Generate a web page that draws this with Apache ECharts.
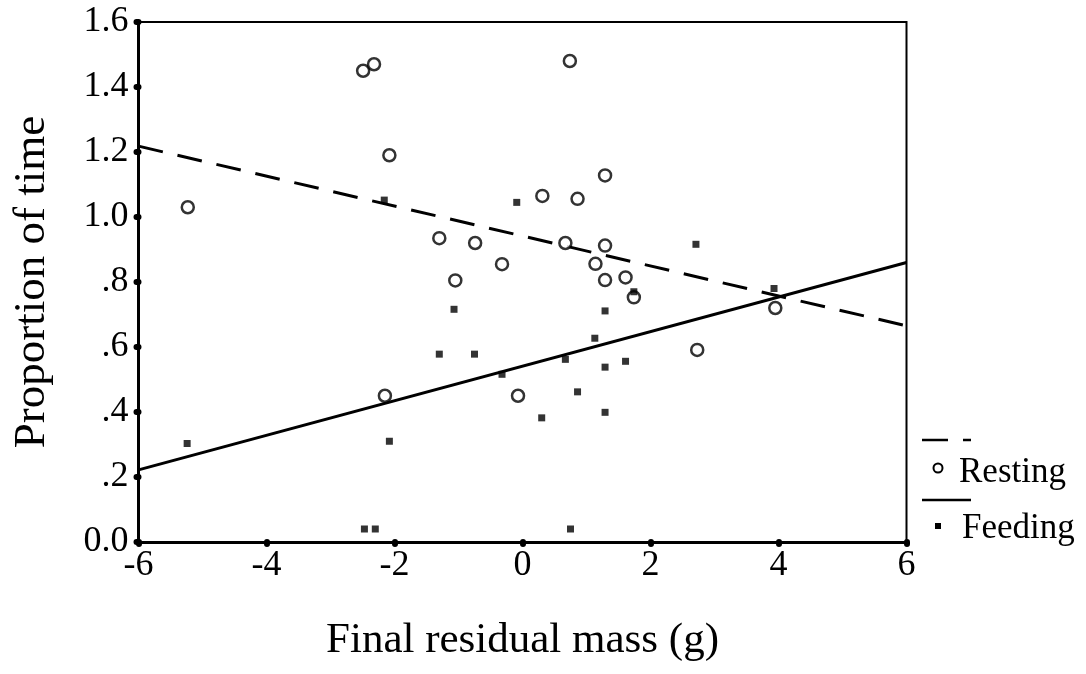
<!DOCTYPE html>
<html>
<head>
<meta charset="utf-8">
<script src="https://cdn.jsdelivr.net/npm/echarts@6/dist/echarts.min.js"></script>
<style>
  html, body { margin: 0; padding: 0; background: #fff; }
  #main { width: 1086px; height: 674px; }
</style>
</head>
<body>
<div id="main"></div>
<script>
// resting (open circles)
var restingX = [-5.23, -2.49, -2.32, -2.08, -2.15, -1.30, -1.05, -0.74, -0.32, -0.07, 0.31, 0.67, 0.74, 0.86, 1.14, 1.29, 1.29, 1.29, 1.61, 1.74, 2.73, 3.95];
var restingY = [1.03, 1.45, 1.47, 1.19, 0.45, 0.935, 0.805, 0.92, 0.855, 0.45, 1.065, 0.92, 1.48, 1.056, 0.856, 1.128, 0.912, 0.806, 0.814, 0.753, 0.591, 0.72];
// feeding (small filled squares)
var feedingX = [-5.24, -2.47, -2.30, -2.16, -2.08, -1.30, -1.07, -0.75, -0.32, -0.09, 0.30, 0.67, 0.75, 0.86, 1.13, 1.29, 1.29, 1.29, 1.61, 1.74, 2.71, 3.93];
var feedingY = [0.303, 0.04, 0.04, 1.052, 0.31, 0.578, 0.716, 0.578, 0.516, 1.045, 0.382, 0.562, 0.04, 0.462, 0.627, 0.711, 0.538, 0.399, 0.556, 0.77, 0.916, 0.78];
// fitted lines, end points
var restingFitX = [-6, 6];
var restingFitY = [1.218, 0.665];
var feedingFitX = [-6, 6];
var feedingFitY = [0.222, 0.86];

var xTicks = [-6, -4, -2, 0, 2, 4, 6];
var yTickLabels = ['0.0', '.2', '.4', '.6', '.8', '1.0', '1.2', '1.4', '1.6'];

function pairs(xs, ys) {
  return xs.map(function (x, i) { return [x, ys[i]]; });
}

var font = 'Liberation Serif';
var chart = echarts.init(document.getElementById('main'));

var option = {
  backgroundColor: '#fff',
  animation: false,
  grid: {
    left: 138.5, right: 179.5, top: 22, bottom: 132,
    outerBoundsMode: 'none',
    show: true, borderColor: '#000', borderWidth: 2, backgroundColor: 'transparent'
  },
  xAxis: {
    type: 'value', min: -6, max: 6, interval: 2,
    name: 'Final residual mass (g)', nameLocation: 'middle', nameGap: 77,
    nameTextStyle: { fontFamily: font, fontSize: 43, color: '#000' },
    axisLine: { onZero: false, lineStyle: { color: '#000', width: 3 } },
    axisTick: { length: 2, lineStyle: { color: '#000', width: 6, cap: 'round' } },
    axisLabel: {
      fontFamily: font, fontSize: 36, color: '#000', margin: 6,
      formatter: function (v) { return xTicks.indexOf(v) >= 0 ? String(v) : ''; }
    },
    splitLine: { show: false }
  },
  yAxis: {
    type: 'value', min: 0, max: 1.6, interval: 0.2,
    name: 'Proportion of time', nameLocation: 'middle', nameGap: 84,
    nameTextStyle: { fontFamily: font, fontSize: 45, color: '#000' },
    axisLine: { onZero: false, lineStyle: { color: '#000', width: 3 } },
    axisTick: { length: 2, lineStyle: { color: '#000', width: 6, cap: 'round' } },
    axisLabel: {
      fontFamily: font, fontSize: 36, color: '#000', margin: 10,
      formatter: function (v) { return yTickLabels[Math.round(v / 0.2)]; }
    },
    splitLine: { show: false }
  },
  legend: { show: false },
  series: [
    {
      name: 'Resting fit', type: 'line', data: pairs(restingFitX, restingFitY),
      symbol: 'none', lineStyle: { color: '#000', width: 3, type: [25, 15] }, z: 2
    },
    {
      name: 'Feeding fit', type: 'line', data: pairs(feedingFitX, feedingFitY),
      symbol: 'none', lineStyle: { color: '#000', width: 3 }, z: 2
    },
    {
      name: 'Resting', type: 'scatter', data: pairs(restingX, restingY),
      symbol: 'circle', symbolSize: 12,
      itemStyle: { color: '#fff', borderColor: '#000', borderWidth: 2.5 }, z: 3
    },
    {
      name: 'Feeding', type: 'scatter', data: pairs(feedingX, feedingY),
      symbol: 'rect', symbolSize: 7,
      itemStyle: { color: '#000' }, z: 4
    }
  ],
  // legend drawn by hand: line sample above each symbol + label
  graphic: [
    { type: 'line', shape: { x1: 922, y1: 440, x2: 948, y2: 440 }, style: { stroke: '#000', lineWidth: 2.5 } },
    { type: 'line', shape: { x1: 963, y1: 440, x2: 971, y2: 440 }, style: { stroke: '#000', lineWidth: 2.5 } },
    { type: 'circle', shape: { cx: 938, cy: 468, r: 4.5 }, style: { fill: '#fff', stroke: '#000', lineWidth: 2 } },
    { type: 'text', left: 959, top: 455, style: { text: 'Resting', font: '35px "Liberation Serif"', fill: '#000' } },
    { type: 'line', shape: { x1: 922, y1: 500, x2: 971, y2: 500 }, style: { stroke: '#000', lineWidth: 2.5 } },
    { type: 'rect', shape: { x: 935, y: 523, width: 6, height: 6 }, style: { fill: '#000' } },
    { type: 'text', left: 962, top: 511, style: { text: 'Feeding', font: '35px "Liberation Serif"', fill: '#000' } }
  ]
};

chart.setOption(option);
</script>
</body>
</html>
